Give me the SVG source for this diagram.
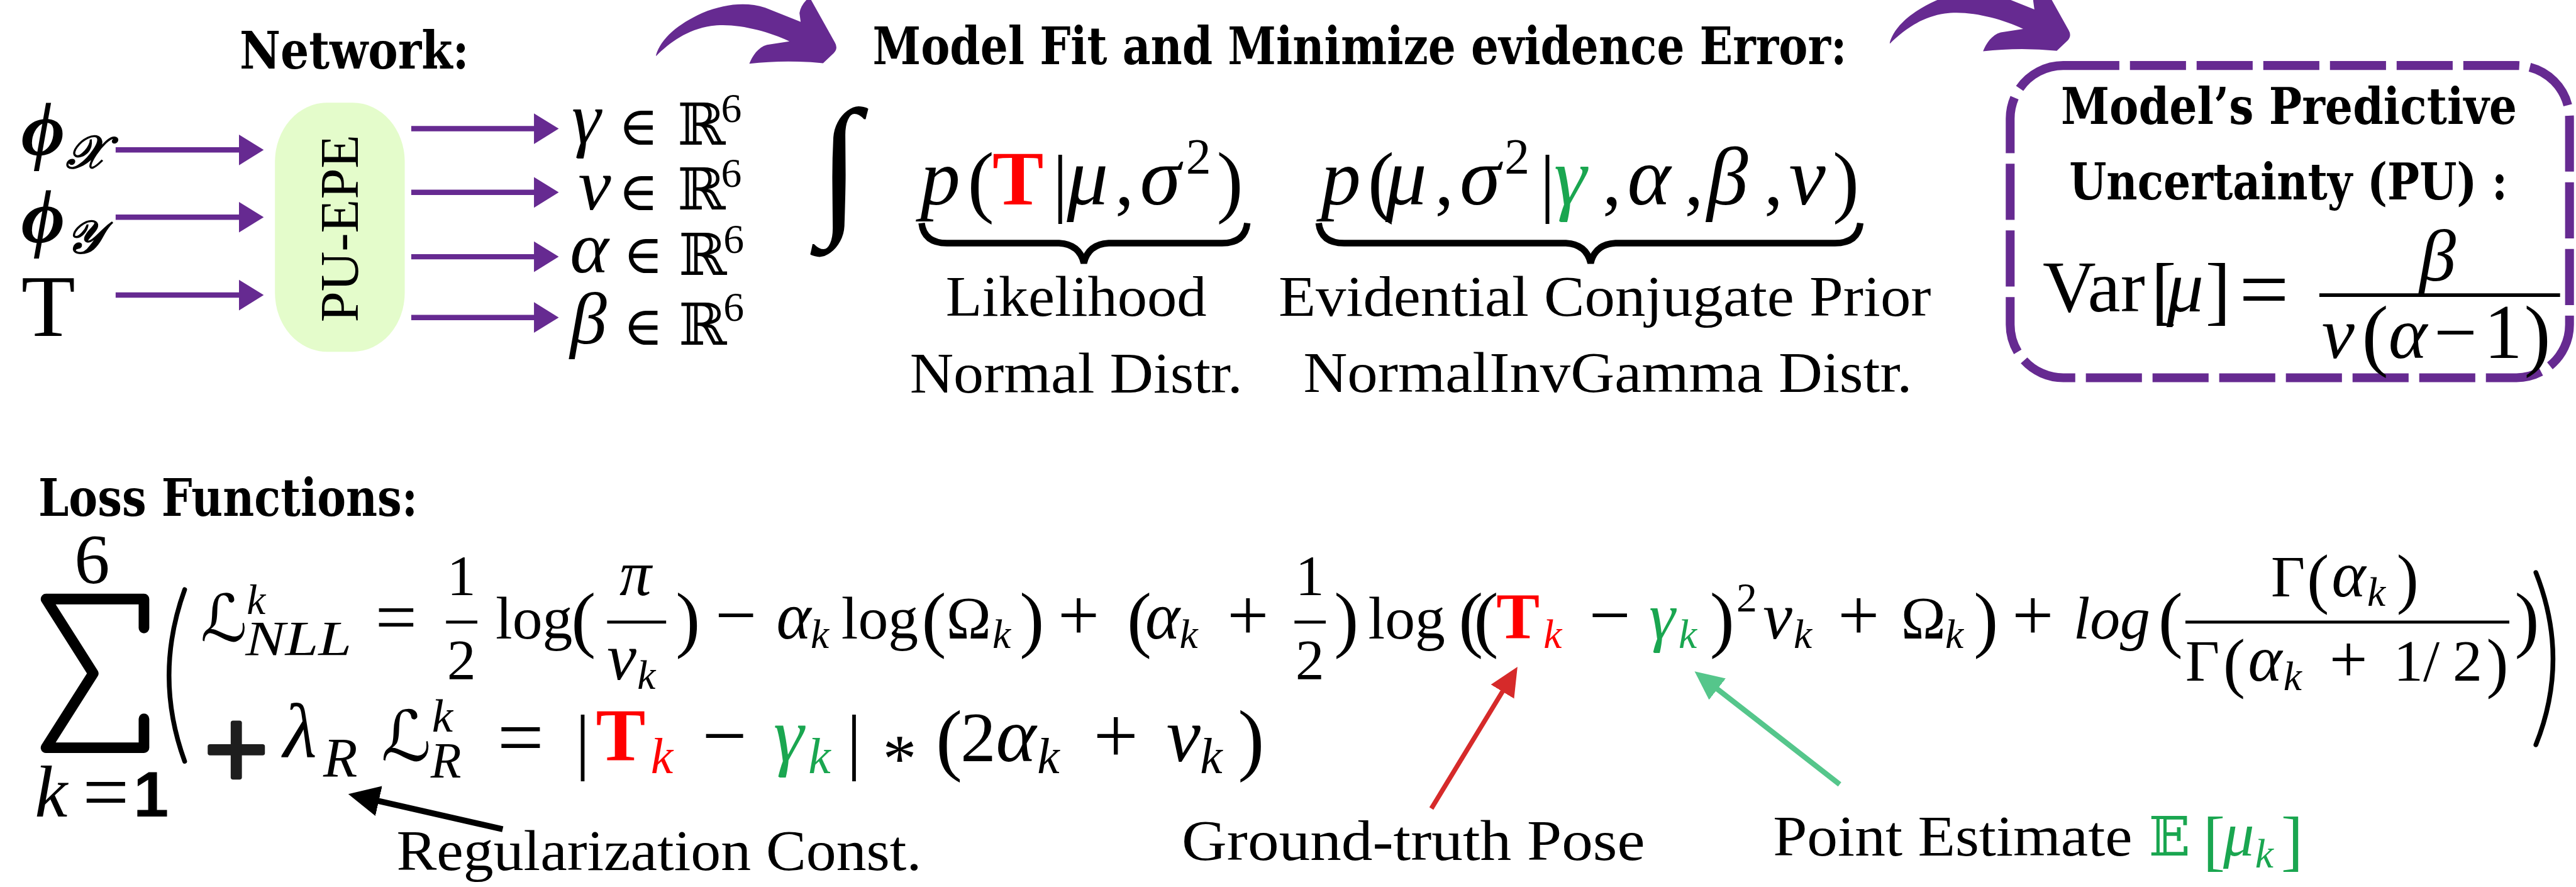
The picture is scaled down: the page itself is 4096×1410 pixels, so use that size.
<svg xmlns="http://www.w3.org/2000/svg" width="4096" height="1410" viewBox="0 0 4096 1410">
<style>
.ttl{font-family:"DejaVu Serif","Liberation Serif",serif;font-weight:bold;fill:#000}
.lab{font-family:"Liberation Serif",serif;fill:#000}
.r{font-family:"Liberation Serif",serif;fill:#000}
.m{font-family:"Liberation Serif",serif;font-style:italic;fill:#000}
.sym{font-family:"DejaVu Serif","DejaVu Sans",serif;fill:#000}
.red{fill:#ff0000}
.grn{fill:#1aa650}
.pl{stroke:#662a91;stroke-width:9;fill:none}
.fr{stroke:#000;stroke-width:5}
</style>
<defs>
<marker id="ap" markerUnits="userSpaceOnUse" markerWidth="45" markerHeight="54" viewBox="0 0 45 54" refX="1" refY="27" orient="auto"><path d="M0,1 L42,27 L0,53 Z" fill="#662a91"/></marker>
<marker id="ab" markerUnits="userSpaceOnUse" markerWidth="56" markerHeight="56" viewBox="0 0 56 56" refX="1" refY="28" orient="auto"><path d="M0,2 L53,28 L0,54 Z" fill="#000"/></marker>
<marker id="ar" markerUnits="userSpaceOnUse" markerWidth="52" markerHeight="50" viewBox="0 0 52 50" refX="1" refY="25" orient="auto"><path d="M0,2 L49,25 L0,48 Z" fill="#d62a2a"/></marker>
<marker id="ag" markerUnits="userSpaceOnUse" markerWidth="52" markerHeight="50" viewBox="0 0 52 50" refX="1" refY="25" orient="auto"><path d="M0,2 L49,25 L0,48 Z" fill="#55c68b"/></marker>
<path id="curve" d="M1112,93 C1120,65 1150,40 1190,22 C1230,6 1265,3 1297,13 L1357,37 L1355,22 Q1357,8 1372,-5 L1415,72 Q1421,82 1413,90 L1395,107 Q1330,101 1270,108 C1275,95 1285,80 1300,76 L1338,70 C1300,52 1245,38 1205,44 C1165,50 1135,72 1112,95 Z" fill="#662a91"/>
</defs>
<rect width="4096" height="1410" fill="#fff"/>
<g transform="scale(0.93816)">

<g id="network-title"><text class="ttl" x="406" y="116" font-size="88" textLength="389" lengthAdjust="spacingAndGlyphs">Network:</text></g>

<g id="inputs">
<text class="m" x="36" y="262" font-size="128" font-weight="bold">ϕ</text>
<text class="m" x="112" y="285" font-size="78" font-weight="bold">𝒳</text>
<text class="m" x="36" y="410" font-size="128" font-weight="bold">ϕ</text>
<text class="m" x="112" y="428" font-size="78" font-weight="bold">𝒴</text>
<text class="r" x="36" y="569" font-size="150">T</text>
</g>

<g id="pu-epe">
<rect x="466" y="174" width="220" height="422" rx="88" ry="100" fill="#e4fccb"/>
<text class="r" transform="translate(607,387) rotate(-90)" x="0" y="0" font-size="92" text-anchor="middle" textLength="318" lengthAdjust="spacingAndGlyphs">PU-EPE</text>
</g>

<g id="outputs">
<text class="m" x="969" y="242" font-size="125">γ</text><text class="sym" x="1048" y="245" font-size="92">∈</text><text class="sym" x="1148" y="245" font-size="98">ℝ</text><text class="r" x="1222" y="207" font-size="70">6</text>
<text class="m" x="980" y="355" font-size="125">ν</text><text class="sym" x="1048" y="356" font-size="92">∈</text><text class="sym" x="1148" y="355" font-size="98">ℝ</text><text class="r" x="1222" y="317" font-size="70">6</text>
<text class="m" x="966" y="462" font-size="125">α</text><text class="sym" x="1056" y="463" font-size="92">∈</text><text class="sym" x="1150" y="466" font-size="98">ℝ</text><text class="r" x="1226" y="428" font-size="70">6</text>
<text class="m" x="966" y="582" font-size="125">β</text><text class="sym" x="1056" y="584" font-size="92">∈</text><text class="sym" x="1150" y="584" font-size="98">ℝ</text><text class="r" x="1226" y="544" font-size="70">6</text>
</g>

<g id="model-fit">
<text class="ttl" x="1479" y="109" font-size="88" textLength="1651" lengthAdjust="spacingAndGlyphs">Model Fit and Minimize evidence Error:</text>
<text class="r" x="1387" y="366" font-size="260">∫</text>
<text class="m" x="1560" y="346" font-size="135">p</text>
<text class="r" x="1640" y="352" font-size="135">(</text>
<text class="r red" x="1682" y="346" font-size="130" font-weight="bold">T</text>
<text class="r" x="1784" y="352" font-size="128">|</text>
<text class="m" x="1808" y="346" font-size="140">μ</text>
<text class="r" x="1890" y="346" font-size="128">,</text>
<text class="m" x="1932" y="346" font-size="140">σ</text>
<text class="r" x="2010" y="294" font-size="85">2</text>
<text class="r" x="2062" y="352" font-size="135">)</text>
<text class="m" x="2239" y="346" font-size="135">p</text>
<text class="r" x="2318" y="352" font-size="135">(</text>
<text class="m" x="2348" y="346" font-size="140">μ</text>
<text class="r" x="2432" y="346" font-size="128">,</text>
<text class="m" x="2474" y="346" font-size="140">σ</text>
<text class="r" x="2550" y="294" font-size="85">2</text>
<text class="r" x="2610" y="352" font-size="128">|</text>
<text class="m grn" x="2634" y="346" font-size="140">γ</text>
<text class="r" x="2716" y="346" font-size="128">,</text>
<text class="m" x="2758" y="346" font-size="140">α</text>
<text class="r" x="2855" y="346" font-size="128">,</text>
<text class="m" x="2893" y="346" font-size="140">β</text>
<text class="r" x="2990" y="346" font-size="128">,</text>
<text class="m" x="3032" y="346" font-size="140">ν</text>
<text class="r" x="3106" y="352" font-size="135">)</text>
<path d="M1562,378 Q1566,412 1605,412 L1795,412 Q1830,414 1837,446 Q1844,414 1879,412 L2071,412 Q2110,412 2114,378" fill="none" stroke="#000" stroke-width="11"/>
<path d="M2235,378 Q2239,412 2278,412 L2654,412 Q2689,414 2696,446 Q2703,414 2738,412 L3110,412 Q3149,412 3153,378" fill="none" stroke="#000" stroke-width="11"/>
<text class="lab" x="1603" y="535" font-size="96" textLength="442" lengthAdjust="spacingAndGlyphs">Likelihood</text>
<text class="lab" x="1542" y="665" font-size="96" textLength="564" lengthAdjust="spacingAndGlyphs">Normal Distr.</text>
<text class="lab" x="2167" y="535" font-size="96" textLength="1106" lengthAdjust="spacingAndGlyphs">Evidential Conjugate Prior</text>
<text class="lab" x="2209" y="664" font-size="96" textLength="1032" lengthAdjust="spacingAndGlyphs">NormalInvGamma Distr.</text>
</g>

<g id="pu-box">
<rect x="3407" y="111" width="948" height="529" rx="90" ry="90" fill="none" stroke="#662a91" stroke-width="15" stroke-dasharray="95 18"/>
<text class="ttl" x="3493" y="210" font-size="86" textLength="773" lengthAdjust="spacingAndGlyphs">Model’s Predictive</text>
<text class="ttl" x="3507" y="338" font-size="86" textLength="743" lengthAdjust="spacingAndGlyphs">Uncertainty (PU) :</text>
<text class="r" x="3462" y="528" font-size="125">Var</text>
<text class="r" x="3646" y="535" font-size="128">[</text>
<text class="m" x="3672" y="528" font-size="125">μ</text>
<text class="r" x="3738" y="535" font-size="128">]</text>
<text class="r" x="3795" y="540" font-size="150">=</text>
<line x1="3931" y1="500" x2="4339" y2="500" stroke="#000" stroke-width="6"/>
<text class="m" x="4100" y="475" font-size="125">β</text>
<text class="m" x="3935" y="606" font-size="125">ν</text>
<text class="r" x="4003" y="612" font-size="135">(</text>
<text class="m" x="4048" y="606" font-size="125">α</text>
<text class="r" x="4125" y="606" font-size="130">−</text>
<text class="r" x="4210" y="606" font-size="130">1</text>
<text class="r" x="4278" y="612" font-size="135">)</text>
</g>

<g id="loss">
<text class="ttl" x="65" y="874" font-size="88" textLength="643" lengthAdjust="spacingAndGlyphs">Loss Functions:</text>
<path d="M244,1064 V1015 H78 L158,1141 L78,1267 H244 V1218" fill="none" stroke="#000" stroke-width="18" stroke-linejoin="round" stroke-linecap="round"/>
<text class="r" x="156" y="988" font-size="120" text-anchor="middle">6</text>
<text class="m" x="59" y="1384" font-size="125">k</text>
<text class="r" x="140" y="1389" font-size="140">=</text>
<text x="226" y="1384" font-size="108" font-family="Liberation Sans,Arial,sans-serif" font-weight="bold">1</text>
<path d="M313,999 Q260,1145 313,1290" fill="none" stroke="#000" stroke-width="8" stroke-linecap="round"/>
<path d="M4298,970 Q4356,1117 4298,1262" fill="none" stroke="#000" stroke-width="8" stroke-linecap="round"/>

<!-- line 1 -->
<text class="sym" x="340" y="1086" font-size="110" font-style="italic">ℒ</text>
<text class="m" x="418" y="1040" font-size="72">k</text>
<text class="m" x="416" y="1110" font-size="84" textLength="180" lengthAdjust="spacingAndGlyphs">NLL</text>
<text class="r" x="636" y="1087" font-size="125">=</text>
<text class="r" x="782" y="1008" font-size="98" text-anchor="middle">1</text>
<line class="fr" x1="756" y1="1054" x2="809" y2="1054"/>
<text class="r" x="782" y="1151" font-size="98" text-anchor="middle">2</text>
<text class="r" x="840" y="1082" font-size="102">log</text>
<text class="r" x="968" y="1090" font-size="125">(</text>
<text class="m" x="1077" y="1008" font-size="108" text-anchor="middle">π</text>
<line class="fr" x1="1029" y1="1054" x2="1129" y2="1054"/>
<text class="m" x="1029" y="1151" font-size="112">ν</text>
<text class="m" x="1080" y="1167" font-size="70">k</text>
<text class="r" x="1145" y="1090" font-size="125">)</text>
<text class="r" x="1212" y="1084" font-size="125">−</text>
<text class="m" x="1316" y="1082" font-size="112">α</text>
<text class="m" x="1374" y="1098" font-size="70">k</text>
<text class="r" x="1426" y="1082" font-size="102">log</text>
<text class="r" x="1562" y="1090" font-size="125">(</text>
<text class="r" x="1604" y="1082" font-size="102">Ω</text>
<text class="m" x="1682" y="1098" font-size="70">k</text>
<text class="r" x="1728" y="1090" font-size="125">)</text>
<text class="r" x="1793" y="1084" font-size="125">+</text>
<text class="r" x="1910" y="1090" font-size="125">(</text>
<text class="m" x="1941" y="1082" font-size="112">α</text>
<text class="m" x="1999" y="1098" font-size="70">k</text>
<text class="r" x="2080" y="1084" font-size="125">+</text>
<text class="r" x="2220" y="1008" font-size="98" text-anchor="middle">1</text>
<line class="fr" x1="2194" y1="1054" x2="2247" y2="1054"/>
<text class="r" x="2220" y="1151" font-size="98" text-anchor="middle">2</text>
<text class="r" x="2261" y="1090" font-size="125">)</text>
<text class="r" x="2319" y="1082" font-size="102">log</text>
<text class="r" x="2472" y="1090" font-size="125">(</text>
<text class="r" x="2498" y="1090" font-size="125">(</text>
<text class="r red" x="2536" y="1082" font-size="110" font-weight="bold">T</text>
<text class="m red" x="2616" y="1098" font-size="70">k</text>
<text class="r" x="2693" y="1084" font-size="125">−</text>
<text class="m grn" x="2795" y="1082" font-size="112">γ</text>
<text class="m grn" x="2845" y="1098" font-size="70">k</text>
<text class="r" x="2898" y="1090" font-size="125">)</text>
<text class="r" x="2943" y="1036" font-size="70">2</text>
<text class="m" x="2988" y="1082" font-size="112">ν</text>
<text class="m" x="3040" y="1098" font-size="70">k</text>
<text class="r" x="3115" y="1084" font-size="125">+</text>
<text class="r" x="3222" y="1082" font-size="102">Ω</text>
<text class="m" x="3297" y="1098" font-size="70">k</text>
<text class="r" x="3345" y="1090" font-size="125">)</text>
<text class="r" x="3410" y="1084" font-size="125">+</text>
<text class="m" x="3514" y="1082" font-size="102">log</text>
<text class="r" x="3658" y="1090" font-size="125">(</text>
<line class="fr" x1="3704" y1="1054" x2="4253" y2="1054"/>
<text class="r" x="3849" y="1010" font-size="100">Γ</text>
<text class="r" x="3910" y="1018" font-size="112">(</text>
<text class="m" x="3952" y="1010" font-size="110">α</text>
<text class="m" x="4012" y="1026" font-size="70">k</text>
<text class="r" x="4062" y="1018" font-size="112">)</text>
<text class="r" x="3704" y="1153" font-size="100">Γ</text>
<text class="r" x="3768" y="1161" font-size="112">(</text>
<text class="m" x="3810" y="1153" font-size="110">α</text>
<text class="m" x="3870" y="1169" font-size="70">k</text>
<text class="r" x="3948" y="1155" font-size="115">+</text>
<text class="r" x="4057" y="1153" font-size="100">1</text>
<text class="r" x="4107" y="1153" font-size="100">/</text>
<text class="r" x="4157" y="1153" font-size="100">2</text>
<text class="r" x="4214" y="1161" font-size="112">)</text>
<text class="r" x="4262" y="1090" font-size="125">)</text>

<!-- line 2 -->
<rect x="352" y="1261" width="97" height="19" rx="4" fill="#1e1e1e"/>
<rect x="391" y="1221" width="19" height="100" rx="4" fill="#1e1e1e"/>
<text class="m" x="480" y="1282" font-size="132">λ</text>
<text class="m" x="548" y="1315" font-size="95">R</text>
<text class="sym" x="646" y="1289" font-size="118" font-style="italic">ℒ</text>
<text class="m" x="732" y="1240" font-size="80">k</text>
<text class="m" x="730" y="1317" font-size="85">R</text>
<text class="r" x="843" y="1296" font-size="140">=</text>
<text class="r" x="975" y="1297" font-size="125">|</text>
<text class="r red" x="1010" y="1289" font-size="126" font-weight="bold">T</text>
<text class="m red" x="1103" y="1310" font-size="85">k</text>
<text class="r" x="1190" y="1292" font-size="135">−</text>
<text class="m grn" x="1311" y="1290" font-size="130">γ</text>
<text class="m grn" x="1370" y="1310" font-size="85">k</text>
<text class="r" x="1435" y="1297" font-size="125">|</text>
<text class="r" x="1496" y="1324" font-size="115">*</text>
<text class="r" x="1586" y="1297" font-size="135">(</text>
<text class="r" x="1628" y="1290" font-size="120">2</text>
<text class="m" x="1688" y="1290" font-size="130">α</text>
<text class="m" x="1758" y="1310" font-size="85">k</text>
<text class="r" x="1853" y="1292" font-size="135">+</text>
<text class="m" x="1977" y="1290" font-size="130">ν</text>
<text class="m" x="2034" y="1310" font-size="85">k</text>
<text class="r" x="2098" y="1297" font-size="135">)</text>
</g>

<g id="labels">
<text class="lab" x="672" y="1474" font-size="96" textLength="890" lengthAdjust="spacingAndGlyphs">Regularization Const.</text>
<text class="lab" x="2003" y="1457" font-size="96" textLength="785" lengthAdjust="spacingAndGlyphs">Ground-truth Pose</text>
<text class="lab" x="3005" y="1450" font-size="96" textLength="609" lengthAdjust="spacingAndGlyphs">Point Estimate</text>
<text class="sym grn" x="3642" y="1450" font-size="92">𝔼</text>
<text class="r grn" x="3734" y="1462" font-size="112">[</text>
<text class="m grn" x="3768" y="1450" font-size="105">μ</text>
<text class="m grn" x="3822" y="1470" font-size="70">k</text>
<text class="r grn" x="3866" y="1462" font-size="112">]</text>
</g>

<g id="connectors">
<line class="pl" x1="196" y1="254" x2="406" y2="254" marker-end="url(#ap)"/>
<line class="pl" x1="196" y1="368" x2="406" y2="368" marker-end="url(#ap)"/>
<line class="pl" x1="196" y1="500" x2="406" y2="500" marker-end="url(#ap)"/>
<line class="pl" x1="697" y1="218" x2="906" y2="218" marker-end="url(#ap)"/>
<line class="pl" x1="697" y1="326" x2="906" y2="326" marker-end="url(#ap)"/>
<line class="pl" x1="697" y1="435" x2="906" y2="435" marker-end="url(#ap)"/>
<line class="pl" x1="697" y1="538" x2="906" y2="538" marker-end="url(#ap)"/>
<use href="#curve"/>
<use href="#curve" transform="translate(2091,-21)"/>
<line x1="852" y1="1405" x2="641" y2="1357" stroke="#000" stroke-width="10" marker-end="url(#ab)"/>
<line x1="2426" y1="1370" x2="2547" y2="1171" stroke="#d62a2a" stroke-width="8" marker-end="url(#ar)"/>
<line x1="3118" y1="1329" x2="2910" y2="1167" stroke="#55c68b" stroke-width="9" marker-end="url(#ag)"/>
</g>
</g>
</svg>
